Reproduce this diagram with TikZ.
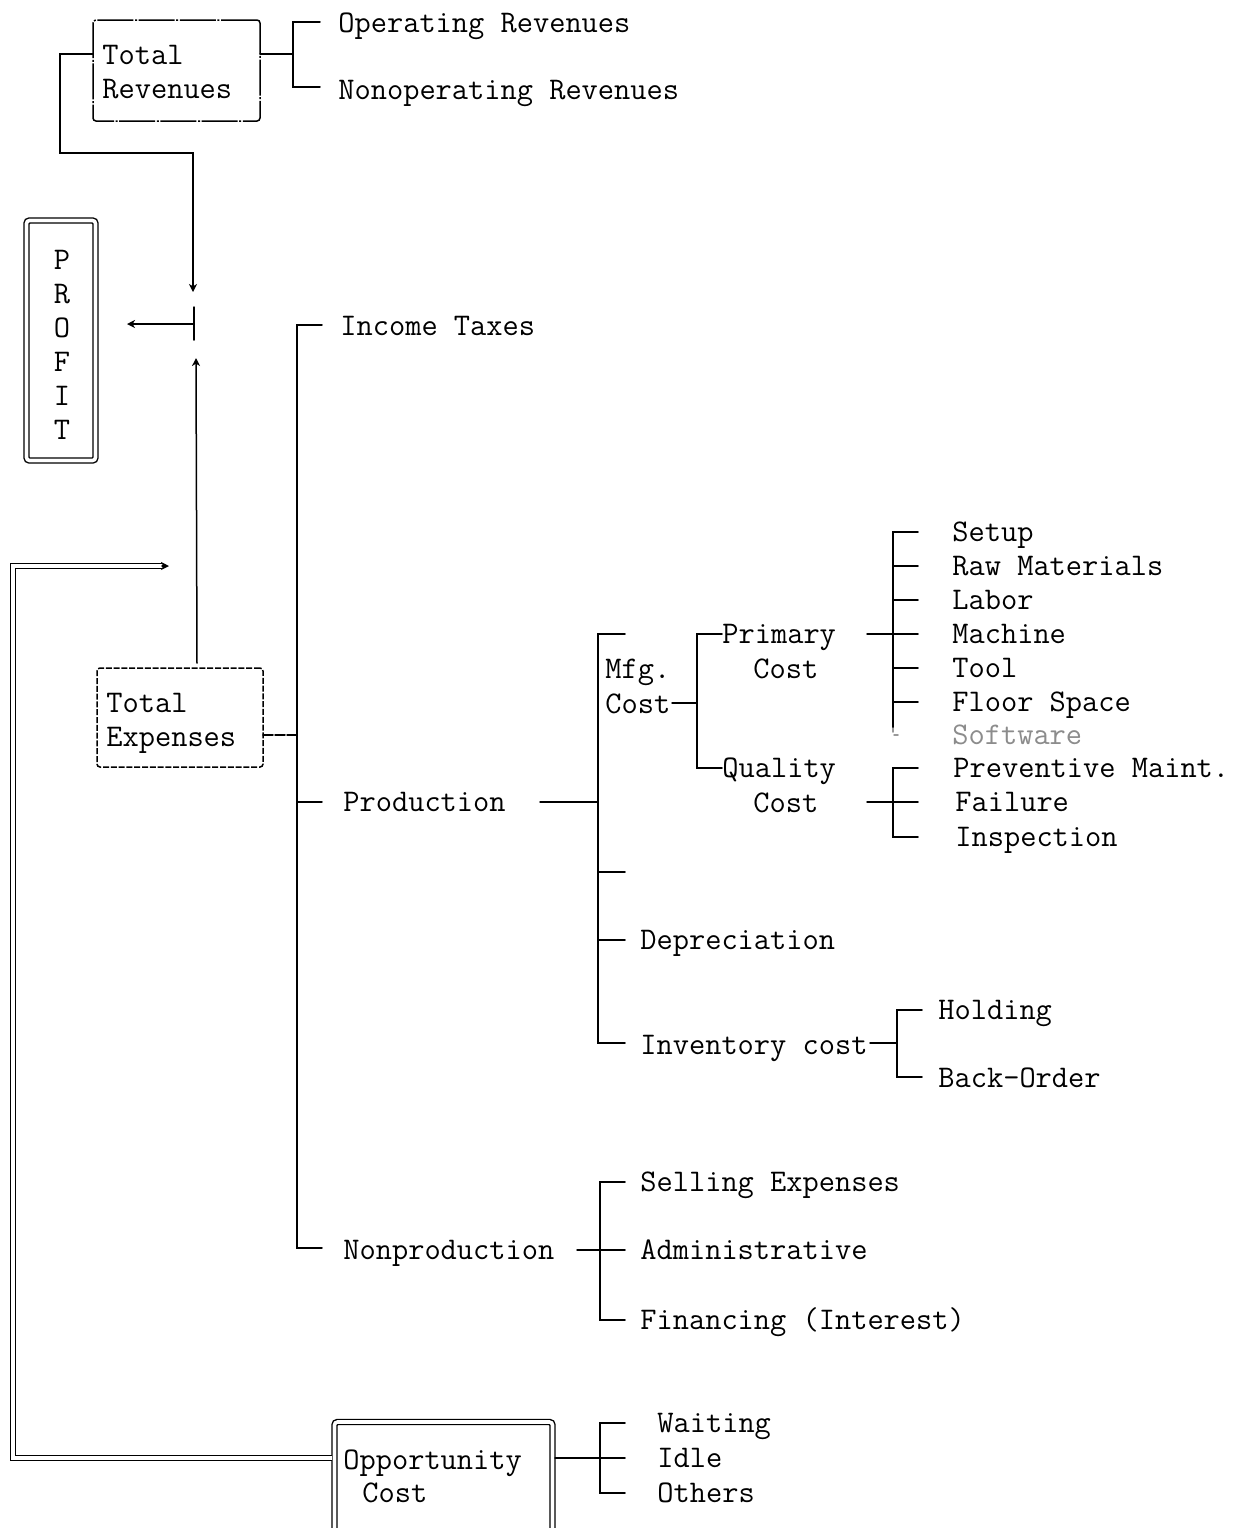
\documentclass[tikz,border=0pt]{standalone}
\usepackage{fontspec}
\usetikzlibrary{arrows.meta}
\newcommand\twfont{\ttfamily\fontsize{15.75pt}{17pt}\selectfont}
\tikzset{
  ln/.style={line width=0.75pt, line cap=round},
  lbl/.style={anchor=base west, inner sep=0pt, yshift=-4.6pt, font=\twfont},
  revbox/.style={draw, line width=0.75pt, rounded corners=1.5pt, dash pattern=on 18pt off 0.8pt on 1pt off 0.8pt},
  expbox/.style={draw, line width=0.75pt, rounded corners=1.5pt, dash pattern=on 3pt off 0.9pt},
  dblbox/.style={draw, line width=0.7pt, double, double distance=1.8pt, rounded corners=1.5pt},
  tip/.style={-{Stealth[length=4pt,width=4pt,inset=1.2pt]}},
}
\begin{document}
\begin{tikzpicture}[x=0.5pt,y=-0.5pt]
\useasboundingbox (0,0) rectangle (1235,1528);
\clip (0,0) rectangle (1235,1528);

% ---- boxes
\node[revbox, minimum width=83.5pt, minimum height=50.5pt] (tr) at (176.5,70.5) {};
\node[expbox, minimum width=83pt, minimum height=49.5pt] (te) at (180,717.5) {};
\node[dblbox, minimum width=34.5pt, minimum height=120pt] (profit) at (61,340.5) {};
\node[dblbox, minimum width=109pt, minimum height=56pt] (oc) at (443.5,1478) {};

% ---- box texts
\node[lbl] (trA) at (102,55) {Total};
\node[lbl] (trB) at (102,89) {Revenues};
\node[lbl] (teA) at (106,703) {Total};
\node[lbl] (teB) at (106,737) {Expenses};
\node[inner sep=0pt, align=center, font=\twfont] (ptxt) at (62,345) {P\\R\\O\\F\\I\\T};
\node[lbl] (ocA) at (343,1460) {Opportunity};
\node[lbl] (ocB) at (362,1493) {Cost};

% ---- labels
\node[lbl] (opr) at (338,23) {Operating Revenues};
\node[lbl] (nopr) at (338,90) {Nonoperating Revenues};
\node[lbl] (tax) at (340,326) {Income Taxes};
\node[lbl] (prod) at (343,802) {Production};
\node[lbl] (nprod) at (343,1250) {Nonproduction};
\node[lbl] (mfgA) at (605,669) {Mfg.};
\node[lbl] (mfgB) at (605,704) {Cost};
\node[lbl] (primA) at (722,634) {Primary};
\node[lbl] (primB) at (753,669) {Cost};
\node[lbl] (qualA) at (722,768) {Quality};
\node[lbl] (qualB) at (753,803) {Cost};
\node[lbl] (p1) at (952,532) {Setup};
\node[lbl] (p2) at (952,566) {Raw Materials};
\node[lbl] (p3) at (952,600) {Labor};
\node[lbl] (p4) at (952,634) {Machine};
\node[lbl] (p5) at (952,668) {Tool};
\node[lbl] (p6) at (952,702) {Floor Space};
\node[lbl, text=black!45] (p7) at (952,735) {Software};
\node[lbl] (q1) at (953,768) {Preventive Maint.};
\node[lbl] (q2) at (955,802) {Failure};
\node[lbl] (q3) at (955,837) {Inspection};
\node[lbl] (dep) at (640,940) {Depreciation};
\node[lbl] (inv) at (640,1045) {Inventory cost};
\node[lbl] (hold) at (938,1010) {Holding};
\node[lbl] (back) at (938,1078) {Back-Order};
\node[lbl] (sell) at (640,1182) {Selling Expenses};
\node[lbl] (adm) at (640,1250) {Administrative};
\node[lbl] (fin) at (640,1320) {Financing (Interest)};
\node[lbl] (w1) at (657,1423) {Waiting};
\node[lbl] (w2) at (657,1458) {Idle};
\node[lbl] (w3) at (657,1493) {Others};

% ---- revenues branch
\draw[ln] (260,54) -- (293,54);
\draw[ln] (320,22) -- (293,22) -- (293,87) -- (320,87);

% ---- revenues and expenses meet at profit
\coordinate (pj) at (194,324);
\draw[ln, tip] (93,54) -- (60,54) -- (60,153) -- (193,153) -- (193,292);
\draw[ln, tip] (197,663) -- (196,358);
\draw[ln] (194,307) -- (194,340);
\draw[ln, tip] (pj) -- (127,324);

% ---- expenses tree
\draw[ln, dash pattern=on 5pt off 1pt] (263,735) -- (297,735);
\draw[ln] (322,325) -- (297,325) -- (297,1248) -- (322,1248);
\draw[ln] (297,802) -- (322,802);

% production
\draw[ln] (540,802) -- (598,802);
\draw[ln] (625,634) -- (598,634) -- (598,1043) -- (625,1043);
\draw[ln] (598,872) -- (625,872);
\draw[ln] (598,940) -- (625,940);

% manufacturing cost
\draw[ln] (672,703) -- (697,703);
\draw[ln] (722,634) -- (697,634) -- (697,768) -- (722,768);

% primary cost items
\draw[ln] (867,634) -- (918,634);
\draw[ln] (918,532) -- (893,532) -- (893,728);
\foreach \yy in {566,600,668,702} \draw[ln] (893,\yy) -- (918,\yy);
\draw[ln, black!40, dash pattern=on 2pt off 2pt] (893,728) -- (893,735) -- (900,735);

% quality cost items
\draw[ln] (867,802) -- (918,802);
\draw[ln] (918,768) -- (893,768) -- (893,837) -- (918,837);

% inventory cost
\draw[ln] (870,1043) -- (897,1043);
\draw[ln] (922,1010) -- (897,1010) -- (897,1077) -- (922,1077);

% nonproduction
\draw[ln] (577,1250) -- (625,1250);
\draw[ln] (625,1182) -- (600,1182) -- (600,1320) -- (625,1320);

% ---- opportunity cost
\draw[ln] (555,1458) -- (625,1458);
\draw[ln] (625,1423) -- (600,1423) -- (600,1493) -- (625,1493);

\coordinate (fb) at (162,566);
\draw[line width=0.7pt, double, double distance=1.8pt] (332,1458) -- (13,1458) -- (13,566) -- (fb);
\draw[ln, tip] (fb) -- (169,566);
\end{tikzpicture}
\end{document}
